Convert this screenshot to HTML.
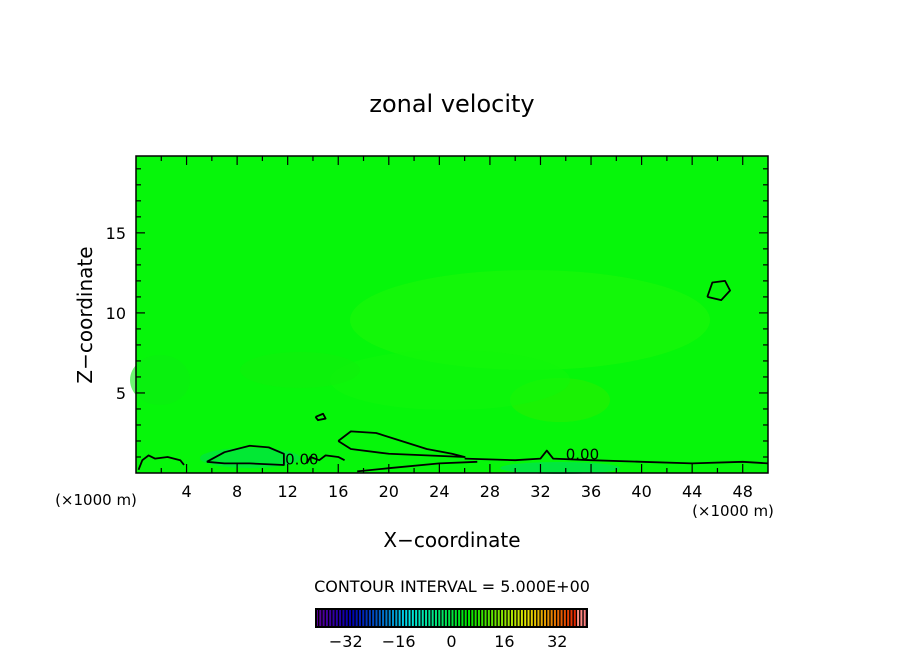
<!DOCTYPE html>
<html><head><meta charset="utf-8"><style>
html,body{margin:0;padding:0;background:#fff;}
svg{display:block;font-family:"DejaVu Sans","Liberation Sans",sans-serif;}
</style></head><body>
<svg id="c" width="904" height="654" viewBox="0 0 904 654">
<text x="452" y="112" text-anchor="middle" font-size="24">zonal velocity</text>
<g id="plot"></g>
<text x="452" y="547" text-anchor="middle" font-size="20">X−coordinate</text>
<text x="92" y="315" text-anchor="middle" font-size="20" transform="rotate(-90 92 315)">Z−coordinate</text>
<text x="96" y="505" text-anchor="middle" font-size="15">(×1000 m)</text>
<text x="733" y="516" text-anchor="middle" font-size="15">(×1000 m)</text>
<text x="452" y="592" text-anchor="middle" font-size="16">CONTOUR INTERVAL = 5.000E+00</text>
<g id="cbar"></g>
</svg>
<script>
const xTicks=[4,8,12,16,20,24,28,32,36,40,44,48];
const yTicks=[5,10,15];
const cbarTicks=[-32,-16,0,16,32];
const cbarMin=-41, cbarMax=41;
// contour lines (x in km, z in km)
const contourA=[[0.2,0.2],[0.5,0.8],[1,1.1],[1.5,0.9],[2.5,1.0],[3.5,0.8],[3.8,0.5]];
const contourB=[[5.6,0.7],[7,1.3],[9,1.7],[10.5,1.6],[11.7,1.2],[11.7,0.5],[9,0.6],[7,0.6],[5.6,0.7]];
const contourC=[[16,2.0],[17,2.6],[19,2.5],[21,2.0],[23,1.5],[25,1.2],[26,1.0],[23,1.1],[20,1.2],[17,1.5],[16,2.0]];
const contourD=[[26,0.9],[30,0.8],[32,0.9],[32.5,1.4],[33,0.9],[36,0.8],[40,0.7],[44,0.6],[48,0.7],[50,0.6]];
const contourE=[[17.5,0.1],[20,0.3],[24,0.6],[27,0.7]];
const contourF=[[45.2,11],[46.3,10.8],[47,11.4],[46.6,12],[45.6,11.9],[45.2,11]];
const contourG=[[14.2,3.5],[14.8,3.7],[15,3.4],[14.4,3.3],[14.2,3.5]];
const contourH=[[13.5,0.6],[13.8,1.0],[14.5,0.8],[15,1.1],[16,1.0],[16.5,0.8]];
const allContours=[contourA,contourB,contourC,contourD,contourE,contourF,contourG,contourH];
const X0=136,X1=768,Y0=473,Y1=156,xMax=50,yMax=19.8;
const sx=v=>X0+(X1-X0)*v/xMax, sy=v=>Y0-(Y0-Y1)*v/yMax;
const NS='http://www.w3.org/2000/svg';
function mk(t,a,p){const e=document.createElementNS(NS,t);for(const k in a)e.setAttribute(k,a[k]);p.appendChild(e);return e;}
const plot=document.getElementById('plot');
const bg=mk('rect',{x:X0,y:Y1,width:X1-X0,height:Y0-Y1,fill:'#06f60a'},plot);


const blobs=[[530,320,180,50,'#1cf808'],[560,400,50,22,'#28f000'],[450,380,120,30,'#10f60a'],[300,370,60,18,'#10f00c'],[160,380,30,25,'#0cee10'],[250,458,50,10,'#00e050'],[560,468,60,6,'#00dd60']];
blobs.forEach(b=>{const e=mk('ellipse',{cx:b[0],cy:b[1],rx:b[2],ry:b[3],fill:b[4],opacity:0.6},plot);

});
allContours.forEach(c=>{const p=mk('polyline',{points:c.map(q=>sx(q[0])+','+sy(q[1])).join(' '),fill:'none',stroke:'#000','stroke-width':1.8,'stroke-linejoin':'round'},plot);

});
[[11.8,0.6],[34,0.9]].forEach(q=>{const t=mk('text',{x:sx(q[0]),y:sy(q[1])+1,'font-size':15},plot);t.textContent='0.00';

});
const fr=mk('rect',{x:X0,y:Y1,width:X1-X0,height:Y0-Y1,fill:'none',stroke:'#000','stroke-width':1.5},plot);


for(let v=2;v<xMax;v+=2){const L=v%4==0?9:5;
mk('line',{x1:sx(v),x2:sx(v),y1:Y0,y2:Y0-L,stroke:'#000','stroke-width':1.2},plot);
mk('line',{x1:sx(v),x2:sx(v),y1:Y1,y2:Y1+L,stroke:'#000','stroke-width':1.2},plot);}
for(let v=1;v<yMax;v+=1){const L=v%5==0?9:5;
mk('line',{y1:sy(v),y2:sy(v),x1:X0,x2:X0+L,stroke:'#000','stroke-width':1.2},plot);
mk('line',{y1:sy(v),y2:sy(v),x1:X1,x2:X1-L,stroke:'#000','stroke-width':1.2},plot);}
xTicks.forEach(v=>{const t=mk('text',{x:sx(v),y:497,'text-anchor':'middle','font-size':16},plot);t.textContent=v;

});
yTicks.forEach(v=>{const t=mk('text',{x:126,y:sy(v)+6,'text-anchor':'end','font-size':16},plot);t.textContent=v;

});
// colorbar
const cb=document.getElementById('cbar');const C0=316,C1=587,CT=609,CB=627;
const cx=v=>C0+(C1-C0)*(v-cbarMin)/(cbarMax-cbarMin);
mk('rect',{x:C0,y:CT,width:C1-C0,height:CB-CT,fill:'#000'},cb);
const n=82;
for(let i=0;i<n;i++){const f=i/(n-1);const hue=275-f*275;
const light=f<0.3?30+f*40:(f>0.97?75:45);
const r=mk('rect',{x:C0+i*(C1-C0)/n,y:CT,width:(C1-C0)/n*0.6,height:CB-CT,fill:`hsl(${hue},100%,${light}%)`},cb);

}
mk('rect',{x:C0,y:CT,width:C1-C0,height:CB-CT,fill:'none',stroke:'#000','stroke-width':2},cb);
cbarTicks.forEach(v=>{const t=mk('text',{x:cx(v),y:647,'text-anchor':'middle','font-size':16},cb);t.textContent=v<0?'−'+(-v):v;

});
</script>
</body></html>
